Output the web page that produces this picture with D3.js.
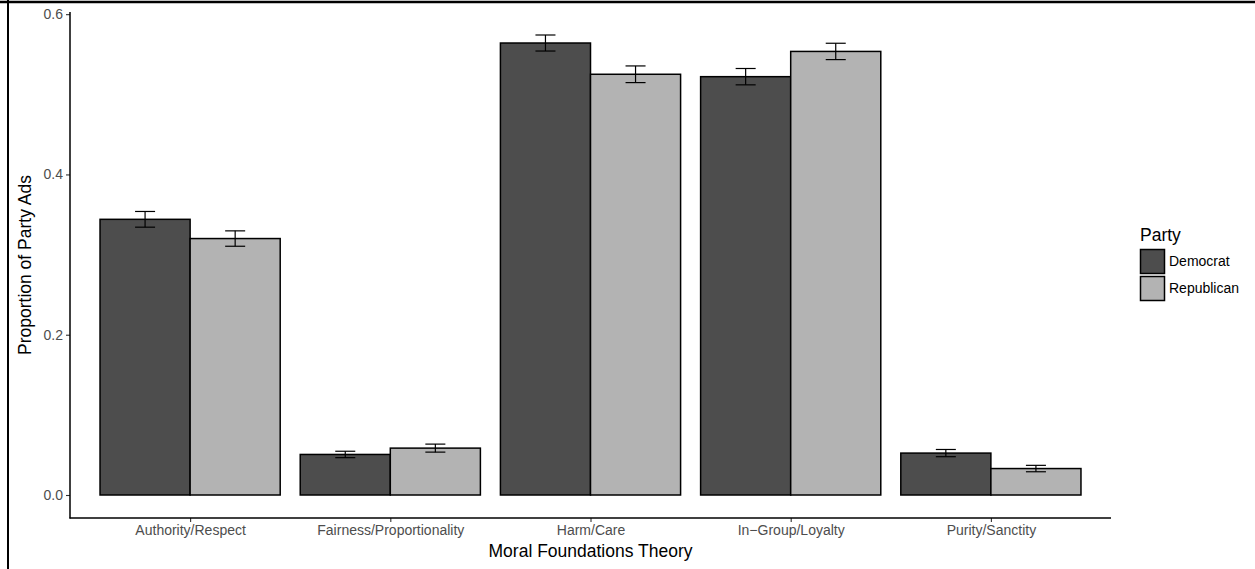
<!DOCTYPE html>
<html lang="en">
<head>
<meta charset="UTF-8">
<title>Moral Foundations by Party</title>
<script src="https://cdnjs.cloudflare.com/ajax/libs/d3/7.8.5/d3.min.js"></script>
<style>
    body { margin: 0; background: #fff; }
    svg { display: block; font-family: "Liberation Sans", Arial, sans-serif; }
</style>
</head>
<body>
<div id="chart"></div>
<script>
    // Data
    const categories = ["Authority/Respect", "Fairness/Proportionality", "Harm/Care", "In\u2212Group/Loyalty", "Purity/Sanctity"];
    const parties = ["Democrat", "Republican"];
    const democrat = [0.344, 0.0506, 0.564, 0.522, 0.0523];
    const republican = [0.320, 0.0585, 0.525, 0.5535, 0.033];
    const democratErr = [0.0098, 0.004, 0.010, 0.0102, 0.0045];
    const republicanErr = [0.0096, 0.005, 0.0104, 0.0102, 0.004];
    const yTicks = [0.0, 0.2, 0.4, 0.6];

    const width = 1255, height = 569;
    const panel = { left: 70, right: 1111, top: 12, bottom: 518 };
    const fills = { Democrat: "#4d4d4d", Republican: "#b3b3b3" };

    const rows = [];
    categories.forEach((c, i) => {
        rows.push({ cat: c, party: "Democrat", value: democrat[i], err: democratErr[i] });
        rows.push({ cat: c, party: "Republican", value: republican[i], err: republicanErr[i] });
    });

    const svg = d3.select("#chart").append("svg")
        .attr("width", width)
        .attr("height", height);

    // outer frame (top and left edges visible in the reference)
    svg.append("line").attr("x1", 0).attr("x2", width).attr("y1", 2).attr("y2", 2)
        .attr("stroke", "#000").attr("stroke-width", 2.5);
    svg.append("line").attr("x1", 8).attr("x2", 8).attr("y1", 0).attr("y2", height)
        .attr("stroke", "#000").attr("stroke-width", 2);

    // scales
    const yMax = d3.max(rows, d => d.value + d.err);
    const pad = yMax * 0.05;
    const y = d3.scaleLinear().domain([-pad, yMax + pad]).range([panel.bottom, panel.top]);
    const x = d3.scalePoint().domain(categories).range([panel.left, panel.right]).padding(0.6);
    const step = x.step();
    const xInner = d3.scaleBand().domain(parties).range([-step * 0.45, step * 0.45]);

    // bars
    svg.append("g").selectAll("rect")
        .data(rows)
        .join("rect")
        .attr("x", d => x(d.cat) + xInner(d.party))
        .attr("y", d => y(d.value))
        .attr("width", xInner.bandwidth())
        .attr("height", d => y(0) - y(d.value))
        .attr("fill", d => fills[d.party])
        .attr("stroke", "#000")
        .attr("stroke-width", 1.5);

    // error bars
    const ew = step * 0.05;
    const eb = svg.append("g").attr("stroke", "#000").attr("stroke-width", 1.2);
    rows.forEach(d => {
        const cx = x(d.cat) + xInner(d.party) + xInner.bandwidth() / 2;
        eb.append("line").attr("x1", cx).attr("x2", cx)
            .attr("y1", y(d.value + d.err)).attr("y2", y(d.value - d.err));
        eb.append("line").attr("x1", cx - ew).attr("x2", cx + ew)
            .attr("y1", y(d.value + d.err)).attr("y2", y(d.value + d.err));
        eb.append("line").attr("x1", cx - ew).attr("x2", cx + ew)
            .attr("y1", y(d.value - d.err)).attr("y2", y(d.value - d.err));
    });

    // y axis
    const yAxis = svg.append("g")
        .attr("transform", `translate(${panel.left},0)`)
        .call(d3.axisLeft(y).tickValues(yTicks).tickFormat(d3.format(".1f")).tickSizeOuter(0).tickSize(4).tickPadding(3));
    yAxis.select(".domain").remove();
    svg.append("line").attr("x1", panel.left).attr("x2", panel.left)
        .attr("y1", panel.top).attr("y2", panel.bottom + 0.5)
        .attr("stroke", "#000").attr("stroke-width", 1.5);

    // x axis
    const xAxis = svg.append("g")
        .attr("transform", `translate(0,${panel.bottom})`)
        .call(d3.axisBottom(x).tickSizeOuter(0).tickSize(4).tickPadding(3));
    xAxis.select(".domain").remove();
    svg.append("line").attr("x1", panel.left - 0.5).attr("x2", panel.right)
        .attr("y1", panel.bottom).attr("y2", panel.bottom)
        .attr("stroke", "#000").attr("stroke-width", 1.5);

    svg.selectAll(".tick line").attr("stroke", "#333").attr("stroke-width", 1.1);
    svg.selectAll(".tick text").attr("fill", "#4d4d4d").style("font-size", "14px");

    // axis titles
    svg.append("text")
        .attr("x", (panel.left + panel.right) / 2)
        .attr("y", 557)
        .attr("text-anchor", "middle")
        .style("font-size", "17.5px")
        .text("Moral Foundations Theory");
    svg.append("text")
        .attr("transform", `translate(31,${(panel.top + panel.bottom) / 2}) rotate(-90)`)
        .attr("text-anchor", "middle")
        .style("font-size", "17.5px")
        .text("Proportion of Party Ads");

    // legend
    const legend = svg.append("g").attr("transform", "translate(1140,249)");
    legend.append("text").attr("x", 0).attr("y", -8)
        .style("font-size", "17.5px").text("Party");
    parties.forEach((p, i) => {
        const g = legend.append("g").attr("transform", `translate(0,${i * 27})`);
        g.append("rect").attr("x", 0.5).attr("y", 0.5).attr("width", 24).attr("height", 24)
            .attr("fill", fills[p]).attr("stroke", "#000").attr("stroke-width", 1.5);
        g.append("text").attr("x", 29).attr("y", 12.5).attr("dy", "0.35em")
            .style("font-size", "14px").text(p);
    });
</script>
</body>
</html>
